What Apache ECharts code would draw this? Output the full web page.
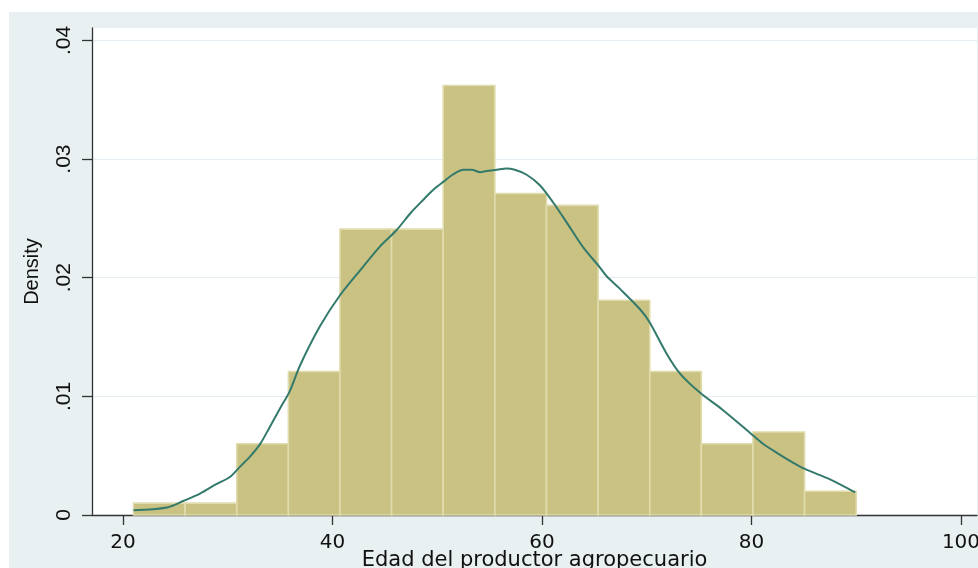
<!DOCTYPE html>
<html>
<head>
<meta charset="utf-8">
<title>Edad del productor agropecuario</title>
<script src="https://cdn.jsdelivr.net/npm/echarts@6/dist/echarts.min.js"></script>
<style>
  html, body { margin: 0; padding: 0; background: #ffffff; }
  #chart { width: 978px; height: 568px; }
</style>
</head>
<body>
<div id="chart"></div>
<script>
// Histogram bins: edges (years) and density of each bin
const binEdges = [21, 25.93, 30.86, 35.79, 40.71, 45.64, 50.57, 55.5, 60.43, 65.36, 70.29, 75.21, 80.14, 85.07, 90];
const binDensity = [0.0010, 0.0010, 0.0060, 0.0121, 0.0241, 0.0241, 0.0362, 0.0271, 0.0261, 0.0181, 0.0121, 0.0060, 0.0070, 0.0020];

// Kernel density estimate: ages and density values
const kdeAge = [21.0, 24.2, 25.8, 27.35, 28.9, 30.2, 31.2, 32.1, 33.1, 34.0, 35.0, 35.9, 36.9, 38.8, 40.7, 42.9, 44.5, 46.1, 47.5, 48.7, 49.6, 50.6, 51.5, 52.5, 53.3, 54.1, 54.7, 55.7, 56.6, 57.4, 58.5, 59.8, 61.1, 62.4, 63.9, 65.5, 66.2, 67.4, 69.4, 70.3, 71.9, 73.2, 75.1, 77.2, 79.9, 81.1, 82.5, 84.0, 85.3, 87.5, 89.9];
const kdeDensity = [0.0004, 0.00064, 0.0012, 0.0018, 0.0026, 0.0032, 0.0041, 0.0049, 0.0060, 0.0074, 0.0090, 0.0104, 0.0126, 0.0159, 0.0185, 0.0209, 0.0226, 0.0240, 0.0255, 0.0266, 0.0274, 0.0281, 0.0287, 0.0291, 0.0291, 0.0289, 0.0290, 0.0291, 0.0292, 0.0291, 0.0287, 0.0278, 0.0263, 0.0246, 0.0226, 0.0209, 0.0201, 0.0191, 0.0173, 0.0162, 0.0136, 0.0119, 0.0103, 0.0089, 0.0069, 0.0060, 0.0052, 0.0044, 0.0038, 0.0030, 0.0019];

// Axis ticks
const xTickValues = [20, 40, 60, 80, 100];
const yTickValues = [0, 0.01, 0.02, 0.03, 0.04];
const yTickLabels = ['0', '.01', '.02', '.03', '.04'];

const xTitle = 'Edad del productor agropecuario';
const yTitle = 'Density';

const barData = binDensity.map((d, i) => [binEdges[i], binEdges[i + 1], d]);
const lineData = kdeAge.map((a, i) => [a, kdeDensity[i]]);

const chart = echarts.init(document.getElementById('chart'), null, { renderer: 'canvas' });

chart.setOption({
  backgroundColor: '#ffffff',
  animation: false,
  graphic: [{
    type: 'rect',
    z: -10,
    silent: true,
    shape: { x: 9, y: 12, width: 969, height: 556 },
    style: { fill: '#e8f0f2' }
  }],
  grid: {
    left: 92, right: 1, top: 28, bottom: 53,
    outerBoundsMode: 'none',
    containLabel: false,
    show: true, backgroundColor: '#ffffff', borderWidth: 0
  },
  xAxis: {
    type: 'value',
    min: 17.04, max: 101.53,
    name: xTitle,
    nameLocation: 'middle',
    nameGap: 35,
    nameMoveOverlap: false,
    nameTextStyle: { fontFamily: 'DejaVu Sans', fontSize: 21, color: '#111111' },
    axisLine: { show: true, lineStyle: { color: '#333333', width: 1.3 } },
    axisTick: { show: true, length: 10, customValues: xTickValues, lineStyle: { color: '#333333', width: 1.3 } },
    axisLabel: { customValues: xTickValues, fontFamily: 'DejaVu Sans', fontSize: 20, color: '#111111', margin: 18 },
    splitLine: { show: false }
  },
  yAxis: {
    type: 'value',
    min: 0, max: 0.04105,
    name: yTitle,
    nameLocation: 'middle',
    nameGap: 50,
    nameRotate: 90,
    nameMoveOverlap: false,
    nameTextStyle: { fontFamily: 'Liberation Sans', fontSize: 20, color: '#111111' },
    axisLine: { show: true, lineStyle: { color: '#333333', width: 1.3 } },
    axisTick: { show: true, length: 10, customValues: yTickValues, lineStyle: { color: '#333333', width: 1.3 } },
    axisLabel: {
      customValues: yTickValues,
      rotate: 90,
      fontFamily: 'Liberation Sans', fontSize: 21, color: '#111111', margin: 17,
      formatter: v => {
        const i = yTickValues.findIndex(t => Math.abs(t - v) < 1e-9);
        return i >= 0 ? yTickLabels[i] : '';
      }
    },
    splitLine: { show: true, lineStyle: { color: '#e4edf2', width: 1.2 } }
  },
  series: [{
    type: 'custom',
    data: barData,
    encode: { x: [0, 1], y: 2 },
    renderItem: (params, api) => {
      const p0 = api.coord([api.value(0), api.value(2)]);
      const p1 = api.coord([api.value(1), 0]);
      return {
        type: 'rect',
        shape: { x: p0[0], y: p0[1], width: p1[0] - p0[0], height: p1[1] - p0[1] },
        style: { fill: '#c9c282', stroke: '#e0dcae', lineWidth: 1.6 }
      };
    },
    z: 2
  }, {
    type: 'line',
    data: lineData,
    showSymbol: false,
    smooth: 0.3,
    lineStyle: { color: '#347a6c', width: 2 },
    z: 3
  }]
});
</script>
</body>
</html>
